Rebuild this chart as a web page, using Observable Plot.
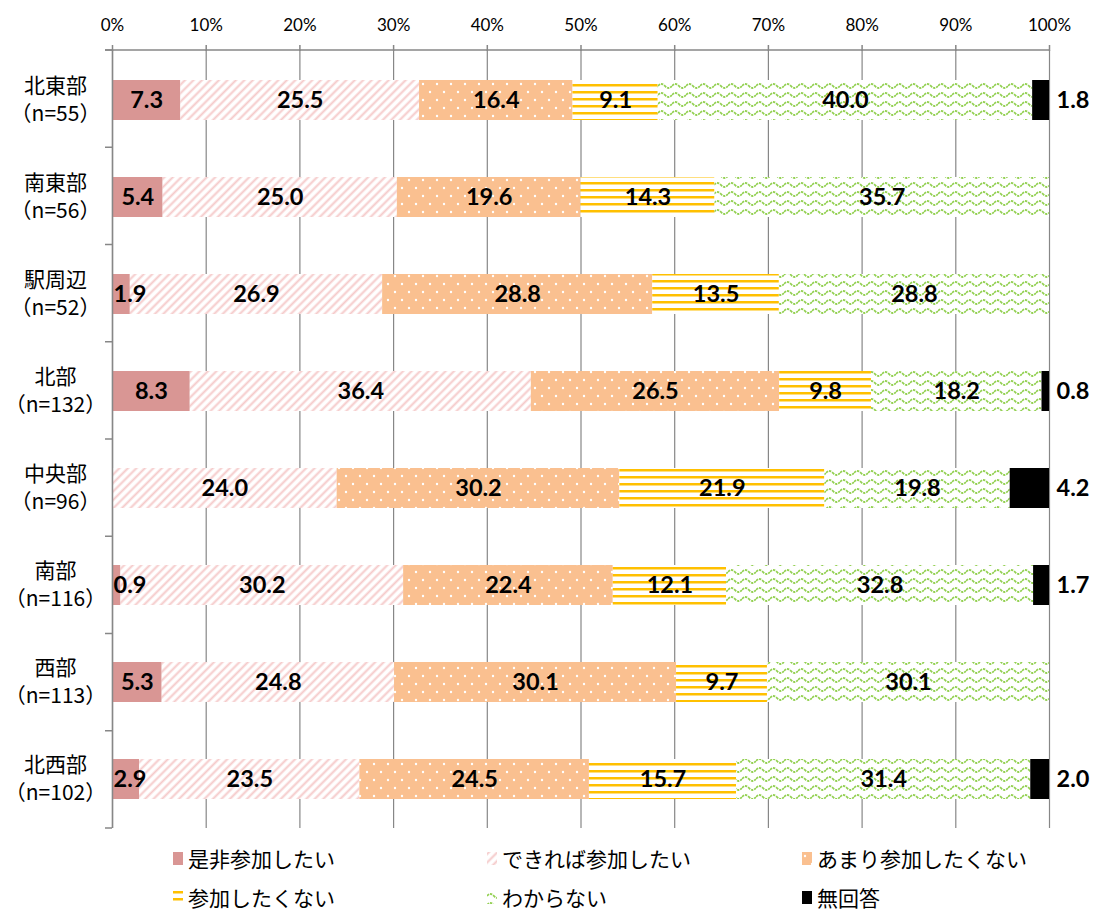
<!DOCTYPE html>
<html><head><meta charset="utf-8">
<script src="https://cdn.jsdelivr.net/npm/d3@7"></script>
<script src="https://cdn.jsdelivr.net/npm/@observablehq/plot@0.6"></script>
<style>
body{margin:0;background:#fff;font-family:Lato,"Noto Sans CJK JP",sans-serif;}
#wrap{width:1093px;position:relative;}
#legend{position:relative;width:1093px;height:71px;}
.li{position:absolute;display:flex;align-items:center;font-size:21px;color:#000;white-space:nowrap;font-family:"Noto Sans CJK JP",sans-serif;}
.li svg{margin-right:5px;}
svg text, svg tspan{text-spacing-trim:space-all;}
</style></head>
<body><div id="wrap"><div id="chart"></div><div id="legend"></div></div>
<script>
const cats = ["北東部","南東部","駅周辺","北部","中央部","南部","西部","北西部"];
const ns = [55,56,52,132,96,116,113,102];
const series = ["是非参加したい","できれば参加したい","あまり参加したくない","参加したくない","わからない","無回答"];
const zehi       = [7.3, 5.4, 1.9, 8.3, 0,    0.9, 5.3, 2.9];
const dekireba   = [25.5,25.0,26.9,36.4,24.0,30.2,24.8,23.5];
const amari      = [16.4,19.6,28.8,26.5,30.2,22.4,30.1,24.5];
const shitakunai = [9.1, 14.3,13.5,9.8, 21.9,12.1,9.7, 15.7];
const wakaranai  = [40.0,35.7,28.8,18.2,19.8,32.8,30.1,31.4];
const mukaitou   = [1.8, 0,   0,   0.8, 4.2, 1.7, 0,   2.0];
const xTicks = [0,0.1,0.2,0.3,0.4,0.5,0.6,0.7,0.8,0.9,1];

const fills = ["#D99694","url(#pDiag)","url(#pDots)","url(#pHoriz)","url(#pWave)","#000000"];
const cols = [zehi,dekireba,amari,shitakunai,wakaranai,mukaitou];
const rows = [];
cats.forEach((c,i)=>series.forEach((s,j)=>rows.push({cat:c,s,v:cols[j][i]})));

const fmt = v => v.toFixed(1);
const midText = d => (d.v>0 && d.s!==series[5] && !(d.s===series[0] && d.v<5)) ? fmt(d.v) : "";
const smallFirst = rows.filter(d=>d.s===series[0] && d.v>0 && d.v<5);
const noAns = rows.filter(d=>d.s===series[5] && d.v>0);
const LF = 23.5;

const chart = Plot.plot({
  width:1093, height:840,
  marginTop:50, marginBottom:12, marginLeft:112, marginRight:44,
  style:{fontFamily:'Lato,"Noto Sans CJK JP",sans-serif', background:"#fff"},
  x:{domain:[0,1], axis:null},
  y:{domain:cats, axis:null, paddingInner:0.59, paddingOuter:0.295},
  color:{domain:series, range:fills},
  marks:[
    Plot.gridX(xTicks,{stroke:"#878787", strokeOpacity:1, strokeWidth:1.2}),
    Plot.axisX(xTicks,{anchor:"top", tickSize:6, tickPadding:14, fontSize:17, tickFormat:d3.format(".0%"), stroke:"#878787", strokeWidth:1.5, label:null}),
    Plot.barX(rows, Plot.stackX({x:"v", y:"cat", fill:"s", offset:"normalize"})),
    Plot.ruleX([0],{stroke:"#878787", strokeWidth:1.5}),
    Plot.text(rows, Plot.stackX({x:"v", y:"cat", z:"s", offset:"normalize", text:midText, fontSize:LF, fontWeight:"bold", fill:"#000"})),
    Plot.text(smallFirst,{y:"cat", frameAnchor:"left", dx:1, textAnchor:"start", text:d=>fmt(d.v), fontSize:LF, fontWeight:"bold", fill:"#000"}),
    Plot.text(noAns,{y:"cat", frameAnchor:"right", dx:7, textAnchor:"start", text:d=>fmt(d.v), fontSize:LF, fontWeight:"bold", fill:"#000"}),
    Plot.text(cats,{y:d=>d, text:(d,i)=>`${d}\n\u2060（n=${ns[i]}）\u2060`, frameAnchor:"left", dx:-57, dy:-2, textAnchor:"middle", lineHeight:1.33, fontSize:21, fill:"#000", fontFamily:'"Noto Sans CJK JP",sans-serif'})
  ]
});

chart.insertAdjacentHTML("afterbegin", `<defs>
<pattern id="pDiag" width="6" height="6" patternUnits="userSpaceOnUse" patternTransform="rotate(45)">
 <rect width="6" height="6" fill="#fff"/><line x1="1.5" y1="0" x2="1.5" y2="6" stroke="#F5CACA" stroke-width="2"/></pattern>
<pattern id="pDots" width="14" height="16" patternUnits="userSpaceOnUse">
 <rect width="14" height="16" fill="#FAC090"/><circle cx="3" cy="4" r="1.2" fill="#fff"/><circle cx="10" cy="12" r="1.2" fill="#fff"/></pattern>
<pattern id="pHoriz" width="8" height="7" patternUnits="userSpaceOnUse">
 <rect width="8" height="7" fill="#fff"/><rect y="0" width="8" height="2.5" fill="#FFC000"/></pattern>
<pattern id="pWave" width="14" height="9" patternUnits="userSpaceOnUse">
 <rect width="14" height="9" fill="#fff"/><path d="M0,5 Q3.5,1 7,5 T14,5" fill="none" stroke="#92D050" stroke-width="1.8" stroke-dasharray="2.5,1"/></pattern>
</defs>`);

// top axis line and category boundary ticks
const xs = chart.scale("x"), ys = chart.scale("y");
const svg = d3.select(chart);
const g = svg.append("g").attr("stroke","#878787").attr("stroke-width",1.5);
g.append("line").attr("x1",xs.apply(0)-7).attr("x2",xs.apply(1)).attr("y1",50).attr("y2",50);
const step = (ys.range[1]-ys.range[0])/cats.length;
for(let i=0;i<=cats.length;i++){
  const y = ys.range[0]+i*step;
  g.append("line").attr("x1",xs.apply(0)-7).attr("x2",xs.apply(0)).attr("y1",y).attr("y2",y);
}
document.getElementById("chart").appendChild(chart);

// legend
const lg = document.getElementById("legend");
const lx = [173,487,802], lyc = [18,57];
series.forEach((s,i)=>{
  const d = document.createElement("div");
  d.className="li";
  d.style.left = lx[i%3]+"px";
  d.style.top = (lyc[Math.floor(i/3)]-14)+"px";
  d.style.height="28px";
  d.innerHTML = `<svg width="10" height="13"><rect width="10" height="13" fill="${fills[i]}"/></svg><span>${s}</span>`;
  lg.appendChild(d);
});
</script></body></html>
